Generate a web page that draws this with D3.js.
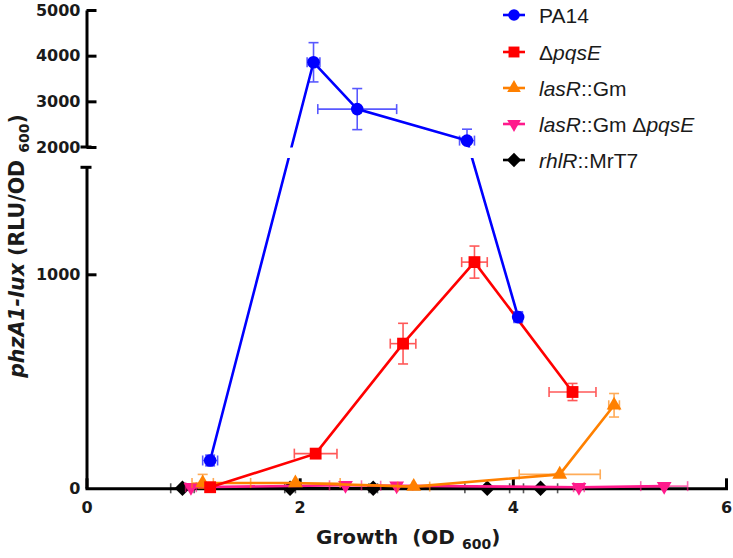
<!DOCTYPE html>
<html><head><meta charset="utf-8">
<script src="https://cdn.jsdelivr.net/npm/d3@7"></script>
<style>body{margin:0;background:#fff}svg{display:block}</style>
</head><body>
<svg id="chart" width="733" height="558"></svg>
<script>
// ---------- data ----------
const seriesNames = ["PA14", "ΔpqsE", "lasR::Gm", "lasR::Gm ΔpqsE", "rhlR::MrT7"];
const seriesColors = ["#0000FF", "#FF0000", "#FF8000", "#FF1A8C", "#000000"];

const pa14X    = [1.16, 2.13, 2.54, 3.57, 4.05];
const pa14Y    = [130, 3855, 2830, 2140, 800];
const pa14Xerr = [0.07, 0.06, 0.37, 0.07, 0.04];
const pa14Yerr = [25, 430, 450, 250, 25];

const pqsEX    = [1.16, 2.15, 2.97, 3.64, 4.56];
const pqsEY    = [5, 162, 676, 1057, 450];
const pqsEXerr = [0.03, 0.20, 0.12, 0.12, 0.22];
const pqsEYerr = [5, 10, 95, 75, 40];

const lasRX    = [1.09, 1.96, 3.07, 4.44, 4.95];
const lasRY    = [25, 25, 8, 65, 388];
const lasRXerr = [0.10, 0.42, 0.15, 0.38, 0.05];
const lasRYerr = [40, 5, 5, 5, 55];

const lasRpqsEX    = [0.98, 2.43, 2.91, 4.62, 5.42];
const lasRpqsEY    = [5, 14, 12, 5, 10];
const lasRpqsEXerr = [0.05, 0.15, 0.15, 0.05, 0.22];
const lasRpqsEYerr = [3, 3, 3, 3, 3];

const rhlRX    = [0.90, 1.91, 2.69, 3.76, 4.26];
const rhlRY    = [0, 0, 0, 0, 0];
const rhlRXerr = [0.11, 0.05, 0.04, 0.21, 0.16];
const rhlRYerr = [0, 0, 0, 0, 0];

const xTicks = [0, 2, 4, 6];
const yTopTicks = [2000, 3000, 4000, 5000];
const yBotTicks = [0, 1000];

const legendParts = [
  [["PA14", false]],
  [["Δ", false], ["pqsE", true]],
  [["lasR", true], ["::Gm", false]],
  [["lasR", true], ["::Gm Δ", false], ["pqsE", true]],
  [["rhlR", true], ["::MrT7", false]]
];

const seriesData = [
  [pa14X, pa14Y, pa14Xerr, pa14Yerr],
  [pqsEX, pqsEY, pqsEXerr, pqsEYerr],
  [lasRX, lasRY, lasRXerr, lasRYerr],
  [lasRpqsEX, lasRpqsEY, lasRpqsEXerr, lasRpqsEYerr],
  [rhlRX, rhlRY, rhlRXerr, rhlRYerr]
];
const symbols = ["circle", "square", "triUp", "triDown", "diamond"];

// ---------- scales ----------
const svg = d3.select("#chart");
const AX = 86.5;
const x = d3.scaleLinear().domain([0, 6]).range([AX, 726]);
const yBot = d3.scaleLinear().domain([0, 1500]).range([488.3, 167.3]);
const yTop = d3.scaleLinear().domain([2000, 5000]).range([147, 10]);
const BREAK = 1750;
const yPix = v => v >= BREAK ? yTop(v) : yBot(v);

const tickFont = "'DejaVu Sans', sans-serif";

function styleAxis(g) {
  g.select(".domain").attr("stroke", "#000").attr("stroke-width", 3);
  g.selectAll(".tick line").attr("stroke", "#000").attr("stroke-width", 3);
  g.selectAll(".tick text").attr("fill", "#1a1a1a")
    .style("font-family", tickFont).style("font-weight", "bold").style("font-size", "16px");
}

// ---------- axes ----------
const gTop = svg.append("g").attr("transform", `translate(${AX},0)`)
  .call(d3.axisLeft(yTop).tickValues(yTopTicks).tickSize(-10).tickSizeOuter(0).tickPadding(6).tickFormat(d3.format("d")));
styleAxis(gTop);
const gBot = svg.append("g").attr("transform", `translate(${AX},0)`)
  .call(d3.axisLeft(yBot).tickValues(yBotTicks).tickSize(-10).tickSizeOuter(0).tickPadding(6).tickFormat(d3.format("d")));
styleAxis(gBot);
gBot.selectAll(".tick").filter(d => d === 0).select("line").remove();
const gX = svg.append("g").attr("transform", `translate(0,${yBot(0)})`)
  .call(d3.axisBottom(x).tickValues(xTicks).tickSize(-10).tickSizeOuter(0).tickPadding(13).tickFormat(d3.format("d")));
styleAxis(gX);
gX.select(".domain").attr("stroke-linecap", "square");

// break caps
[yTop(2000), yBot(1500)].forEach(yy => {
  svg.append("line").attr("x1", AX - 6).attr("x2", AX + 5).attr("y1", yy).attr("y2", yy)
    .attr("stroke", "#000").attr("stroke-width", 3);
});

// ---------- axis titles ----------
const yl = svg.append("text")
  .attr("transform", `translate(24,${246}) rotate(-90)`)
  .attr("text-anchor", "middle")
  .style("font-family", tickFont).style("font-weight", "bold").style("font-size", "20.5px")
  .attr("fill", "#1a1a1a");
yl.append("tspan").style("font-style", "italic").text("phzA1-lux");
yl.append("tspan").text(" (RLU/OD ");
yl.append("tspan").style("font-size", "14px").attr("dy", 5).text("600");
yl.append("tspan").attr("dy", -5).text(")");

const xl = svg.append("text")
  .attr("x", 316).attr("y", 544)
  .style("font-family", tickFont).style("font-weight", "bold").style("font-size", "20px")
  .style("white-space", "pre").attr("fill", "#1a1a1a");
xl.append("tspan").text("Growth  (OD ");
xl.append("tspan").style("font-size", "14px").attr("dy", 5).text("600");
xl.append("tspan").attr("dy", -5).text(")");

// ---------- clip for lines (axis break) ----------
const defs = svg.append("defs");
const cp = defs.append("clipPath").attr("id", "breakClip");
cp.append("rect").attr("x", 0).attr("y", 0).attr("width", 733).attr("height", 147.5);
cp.append("rect").attr("x", 0).attr("y", 158).attr("width", 733).attr("height", 400);

function symbolPath(type, size) {
  if (type === "circle") return d3.symbol(d3.symbolCircle, size)();
  if (type === "square") return d3.symbol(d3.symbolSquare, size)();
  if (type === "triUp" || type === "triDown") return d3.symbol(d3.symbolTriangle, size)();
  if (type === "diamond") return d3.symbol(d3.symbolSquare, size)();
}
function symbolRot(type) {
  if (type === "triDown") return 180;
  if (type === "diamond") return 45;
  return 0;
}
const symSize = { circle: 125, square: 140, triUp: 95, triDown: 95, diamond: 120 };

// ---------- series (drawn last-first so PA14 is on top) ----------
for (let s = seriesData.length - 1; s >= 0; s--) {
  const [xs, ys, xe, ye] = seriesData[s];
  const col = seriesColors[s];
  const g = svg.append("g");
  const pts = xs.map((v, i) => ({ x: v, y: ys[i], xe: xe[i], ye: ye[i] }));

  // line
  g.append("path")
    .attr("d", d3.line().x(d => x(d.x)).y(d => yPix(d.y))(pts))
    .attr("fill", "none").attr("stroke", col).attr("stroke-width", 2.6)
    .attr("clip-path", "url(#breakClip)");

  // error bars
  const eb = g.append("g").attr("stroke", col).attr("stroke-width", 1.6).attr("opacity", 0.65);
  pts.forEach(d => {
    const cx = x(d.x), cy = yPix(d.y);
    if (d.ye > 0) {
      let lo = d.y - d.ye, hi = d.y + d.ye, loCap = true;
      if (d.y >= BREAK && lo < 2000) { lo = 2000; loCap = false; }
      if (d.y < BREAK && lo < 0) { lo = 0; }
      const y1 = yPix(hi), y2 = yPix(lo);
      eb.append("line").attr("x1", cx).attr("x2", cx).attr("y1", y1).attr("y2", y2);
      eb.append("line").attr("x1", cx - 5).attr("x2", cx + 5).attr("y1", y1).attr("y2", y1);
      if (loCap) eb.append("line").attr("x1", cx - 5).attr("x2", cx + 5).attr("y1", y2).attr("y2", y2);
    }
    if (d.xe > 0) {
      const x1 = x(d.x - d.xe), x2 = x(d.x + d.xe);
      eb.append("line").attr("x1", x1).attr("x2", x2).attr("y1", cy).attr("y2", cy);
      eb.append("line").attr("x1", x1).attr("x2", x1).attr("y1", cy - 5).attr("y2", cy + 5);
      eb.append("line").attr("x1", x2).attr("x2", x2).attr("y1", cy - 5).attr("y2", cy + 5);
    }
  });

  // markers
  const type = symbols[s];
  g.selectAll("path.mk").data(pts).join("path").attr("class", "mk")
    .attr("d", symbolPath(type, symSize[type]))
    .attr("transform", d => `translate(${x(d.x)},${yPix(d.y)}) rotate(${symbolRot(type)})`)
    .attr("fill", col);
}

// ---------- legend ----------
const legY = [15, 52, 88, 124, 160];
const lg = svg.append("g");
seriesNames.forEach((name, i) => {
  const col = seriesColors[i], type = symbols[i], yy = legY[i];
  lg.append("line").attr("x1", 503).attr("x2", 525).attr("y1", yy).attr("y2", yy)
    .attr("stroke", col).attr("stroke-width", 2.6);
  lg.append("path").attr("d", symbolPath(type, symSize[type] * 0.85))
    .attr("transform", `translate(514,${yy}) rotate(${symbolRot(type)})`).attr("fill", col);
  const t = lg.append("text").attr("x", 539).attr("y", yy + 8)
    .style("font-family", "'Liberation Sans', Arial, sans-serif").style("font-size", "21px")
    .style("white-space", "pre").attr("fill", "#1a1a1a");
  legendParts[i].forEach(([txt, it]) => {
    t.append("tspan").style("font-style", it ? "italic" : "normal").text(txt);
  });
});
</script>
</body></html>
